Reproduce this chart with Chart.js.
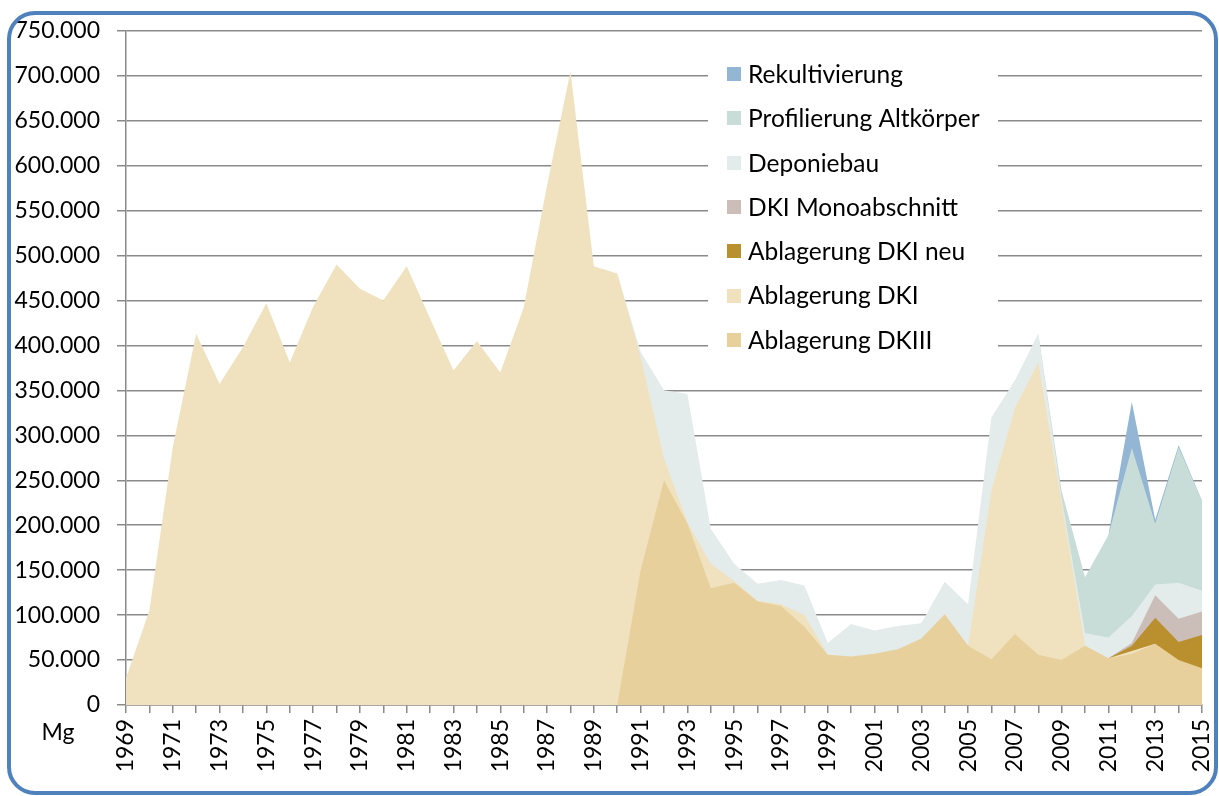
<!DOCTYPE html>
<html><head><meta charset="utf-8">
<script src="https://cdn.jsdelivr.net/npm/chart.js@4/dist/chart.umd.min.js"></script>
<style>html,body{margin:0;padding:0;background:#fff}#wrap{width:1219px;height:796px;position:relative}</style>
</head><body><div id="wrap"><canvas id="c"></canvas></div>
<script>
const years = ['1969','1970','1971','1972','1973','1974','1975','1976','1977','1978','1979','1980','1981','1982','1983','1984','1985','1986','1987','1988','1989','1990','1991','1992','1993','1994','1995','1996','1997','1998','1999','2000','2001','2002','2003','2004','2005','2006','2007','2008','2009','2010','2011','2012','2013','2014','2015'];

// values in Mg
const ablagerungDKIII = [0,0,0,0,0,0,0,0,0,0,0,0,0,0,0,0,0,0,0,0,0,0,150000,250000,202000,130000,136000,115000,110000,87000,56000,54000,57000,62000,74000,101000,66000,51000,79000,56000,50000,66000,52000,57000,68000,50000,41000];
const ablagerungDKI = [30000,105000,287000,413000,357000,398000,447000,381000,443000,490000,463000,450000,488000,430000,372000,405000,370000,442000,578000,705000,488000,480000,237000,24000,1000,27000,2000,1000,2000,13000,0,0,0,0,0,0,0,188000,251000,325000,175000,0,0,3000,0,0,0];
const ablagerungDKINeu = [0,0,0,0,0,0,0,0,0,0,0,0,0,0,0,0,0,0,0,0,0,0,0,0,0,0,0,0,0,0,0,0,0,0,0,0,0,0,0,0,0,0,0,6000,29000,20000,37000];
const dkiMonoabschnitt = [0,0,0,0,0,0,0,0,0,0,0,0,0,0,0,0,0,0,0,0,0,0,0,0,0,0,0,0,0,0,0,0,0,0,0,0,0,0,0,0,0,0,0,3000,25000,26000,26000];
const deponiebau = [0,0,0,0,0,0,0,0,0,0,0,0,0,0,0,0,0,0,0,0,0,0,6000,76000,143000,39000,19000,19000,27000,33000,13000,36000,26000,26000,17000,36000,46000,81000,31000,32000,5000,14000,23000,30000,12000,40000,23000];
const profilierungAltkoerper = [0,0,0,0,0,0,0,0,0,0,0,0,0,0,0,0,0,0,0,0,0,0,0,0,0,0,0,0,0,0,0,0,0,0,0,0,0,0,0,0,8000,62000,114000,187000,68000,151000,100000];
const rekultivierung = [0,0,0,0,0,0,0,0,0,0,0,0,0,0,0,0,0,0,0,0,0,0,0,0,0,0,0,0,0,0,0,0,0,0,0,0,0,0,0,0,0,0,0,51000,4000,2000,0];

const yMin = 0, yMax = 750000, yStep = 50000;

const seriesDefs = [
  ['Ablagerung DKIII', ablagerungDKIII, '#E8D09C'],
  ['Ablagerung DKI', ablagerungDKI, '#F0E1BF'],
  ['Ablagerung DKI neu', ablagerungDKINeu, '#BA902F'],
  ['DKI Monoabschnitt', dkiMonoabschnitt, '#CBBDB7'],
  ['Deponiebau', deponiebau, '#E3ECEA'],
  ['Profilierung Altkörper', profilierungAltkoerper, '#C8DCD8'],
  ['Rekultivierung', rekultivierung, '#93B6D5']
];

// drop zero points that carry no area (avoid edge build-up of empty layers)
const mask = arr => arr.map((v, i) =>
  (v === 0 && (i === 0 || arr[i - 1] === 0) && (i === arr.length - 1 || arr[i + 1] === 0)) ? null : v);

const fmt = v => String(v).replace(/\B(?=(\d{3})+(?!\d))/g, '.');

const deco = {
  id: 'deco',
  beforeDraw(chart) {
    const c = chart.ctx; c.save(); c.fillStyle = '#fff'; c.fillRect(0, 0, chart.width, chart.height); c.restore();
  },
  beforeDatasetsDraw(chart) {
    const c = chart.ctx; c.save();
    c.fillStyle = '#fff';
    c.fillRect(708, 52, 290, 312);
    const ds = chart.data.datasets.slice().reverse();
    c.font = '24.5px Lato';
    c.textBaseline = 'middle';
    c.textAlign = 'left';
    ds.forEach((d, i) => {
      const y = 74 + i * 44.3;
      c.fillStyle = d.backgroundColor;
      c.fillRect(727, Math.round(y - 7), 14, 14);
      c.fillStyle = '#000';
      c.fillText(d.label, 748, y + 1);
    });
    c.restore();
  },
  afterDraw(chart) {
    const c = chart.ctx; c.save();
    c.strokeStyle = '#4F81BD'; c.lineWidth = 4;
    c.beginPath(); c.roundRect(9, 13, 1207, 780, 26); c.stroke();
    c.fillStyle = '#000'; c.font = '23px Lato'; c.textAlign = 'center'; c.textBaseline = 'middle';
    c.fillText('Mg', 58, 733);
    c.restore();
  }
};

new Chart(document.getElementById('c'), {
  type: 'line',
  data: {
    labels: years,
    datasets: seriesDefs.map(([label, data, color]) => ({
      label, data: mask(data),
      backgroundColor: color,
      borderColor: 'rgba(0,0,0,0)',
      borderWidth: 0,
      pointRadius: 0,
      pointHoverRadius: 0,
      tension: 0,
      spanGaps: false,
      fill: 'origin'
    }))
  },
  options: {
    responsive: true,
    maintainAspectRatio: false,
    animation: false,
    devicePixelRatio: 1,
    layout: { padding: { top: 29, right: 17, left: 0, bottom: 0 } },
    plugins: { legend: { display: false }, tooltip: { enabled: false } },
    scales: {
      x: {
        type: 'category',
        offset: false,
        grid: { drawOnChartArea: false, drawTicks: true, tickLength: 8, color: '#8a8a8a', lineWidth: 1.5 },
        border: { display: true, color: '#8a8a8a', width: 1.5 },
        ticks: {
          autoSkip: false, maxRotation: 90, minRotation: 90, padding: 6,
          color: '#000', font: { family: 'Lato', size: 23 },
          callback: (v, i) => (i % 2 === 0 ? years[i] : '')
        },
        afterFit: s => { s.height = 91; s.paddingRight = 0; s.paddingLeft = 0; }
      },
      y: {
        stacked: true,
        min: yMin, max: yMax,
        grid: { color: '#8a8a8a', lineWidth: 1.5, tickLength: 9 },
        border: { display: true, color: '#8a8a8a', width: 1.5 },
        ticks: { stepSize: yStep, padding: 17, color: '#000', font: { family: 'Lato', size: 23 }, callback: v => fmt(v) },
        afterFit: s => { s.width = 126; }
      }
    }
  },
  plugins: [deco]
});
</script></body></html>
